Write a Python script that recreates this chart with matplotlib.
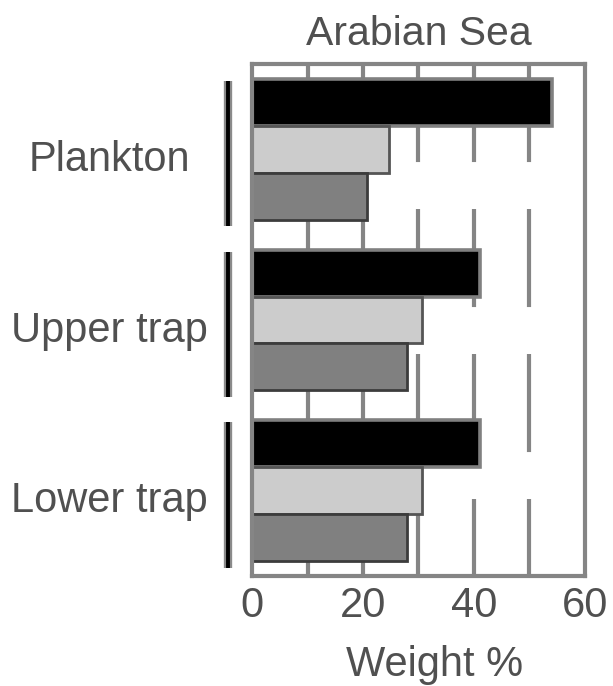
import matplotlib
matplotlib.use("Agg")
import matplotlib.pyplot as plt
import matplotlib.transforms as mtransforms
import numpy as np

plt.rcParams['font.family'] = ['Liberation Sans', 'DejaVu Sans']
plt.rcParams['lines.scale_dashes'] = False

# Data
categories = ["Plankton", "Upper trap", "Lower trap"]
series_black = [54.0, 41.0, 41.0]
series_light = [24.6, 30.6, 30.7]
series_dark = [20.7, 28.0, 28.0]
x_ticks = [0, 20, 40, 60]
x_label = "Weight %"
title = "Arabian Sea"

TEXT = "#505050"
LINE = "#858585"

fig = plt.figure(figsize=(6.13, 6.86), dpi=100)
ax = fig.add_axes([0.4111, 0.1603, 0.5432, 0.7464])

pos = np.arange(len(categories))
h = 0.275
bar_kw = dict(height=h, zorder=3)
ax.barh(pos - h, series_black, color="black", edgecolor="#808080", linewidth=2.6, **bar_kw)
ax.barh(pos, series_light, color="#cccccc", edgecolor="#555555", linewidth=2.0, **bar_kw)
ax.barh(pos + h, series_dark, color="#808080", edgecolor="#3c3c3c", linewidth=2.0, **bar_kw)

ax.set_xlim(0, 60)
ax.set_ylim(len(categories) - 0.5, -0.5)

# dashed vertical grid, drawn from the top edge down
ax.vlines(np.arange(10, 60, 10), -0.5, len(categories) - 0.5, colors=LINE,
          linewidth=3.0, linestyles=[(0, (70.6, 33.8))], zorder=1)

for s in ax.spines.values():
    s.set_color(LINE)
    s.set_linewidth(3.0)
    s.set_zorder(4)

ax.set_xticks(x_ticks)
ax.set_xticklabels([str(t) for t in x_ticks])
ax.tick_params(axis='x', length=0, pad=7, labelsize=30, labelcolor=TEXT)
ax.set_yticks([])

ax.set_title(title, fontsize=29.5, color=TEXT, pad=13.7)
ax.set_xlabel(x_label, fontsize=30, color=TEXT)
ax.xaxis.set_label_coords(0.547, -0.135)

# group brackets and labels on the left
trans = mtransforms.blended_transform_factory(ax.transAxes, ax.transData)
for i, name in enumerate(categories):
    y0, y1 = i - 0.40, i + 0.45
    ax.plot([-0.072, -0.072], [y0, y1], transform=trans, color="#8a8a8a",
            linewidth=6.0, solid_capstyle='butt', clip_on=False, zorder=5)
    ax.plot([-0.072, -0.072], [y0, y1], transform=trans, color="black",
            linewidth=2.8, solid_capstyle='butt', clip_on=False, zorder=6)
    ax.text(-0.429, i + 0.126, name, transform=trans, ha='center',
            va='baseline', fontsize=30, color=TEXT)

fig.savefig("out.png", dpi=100)
